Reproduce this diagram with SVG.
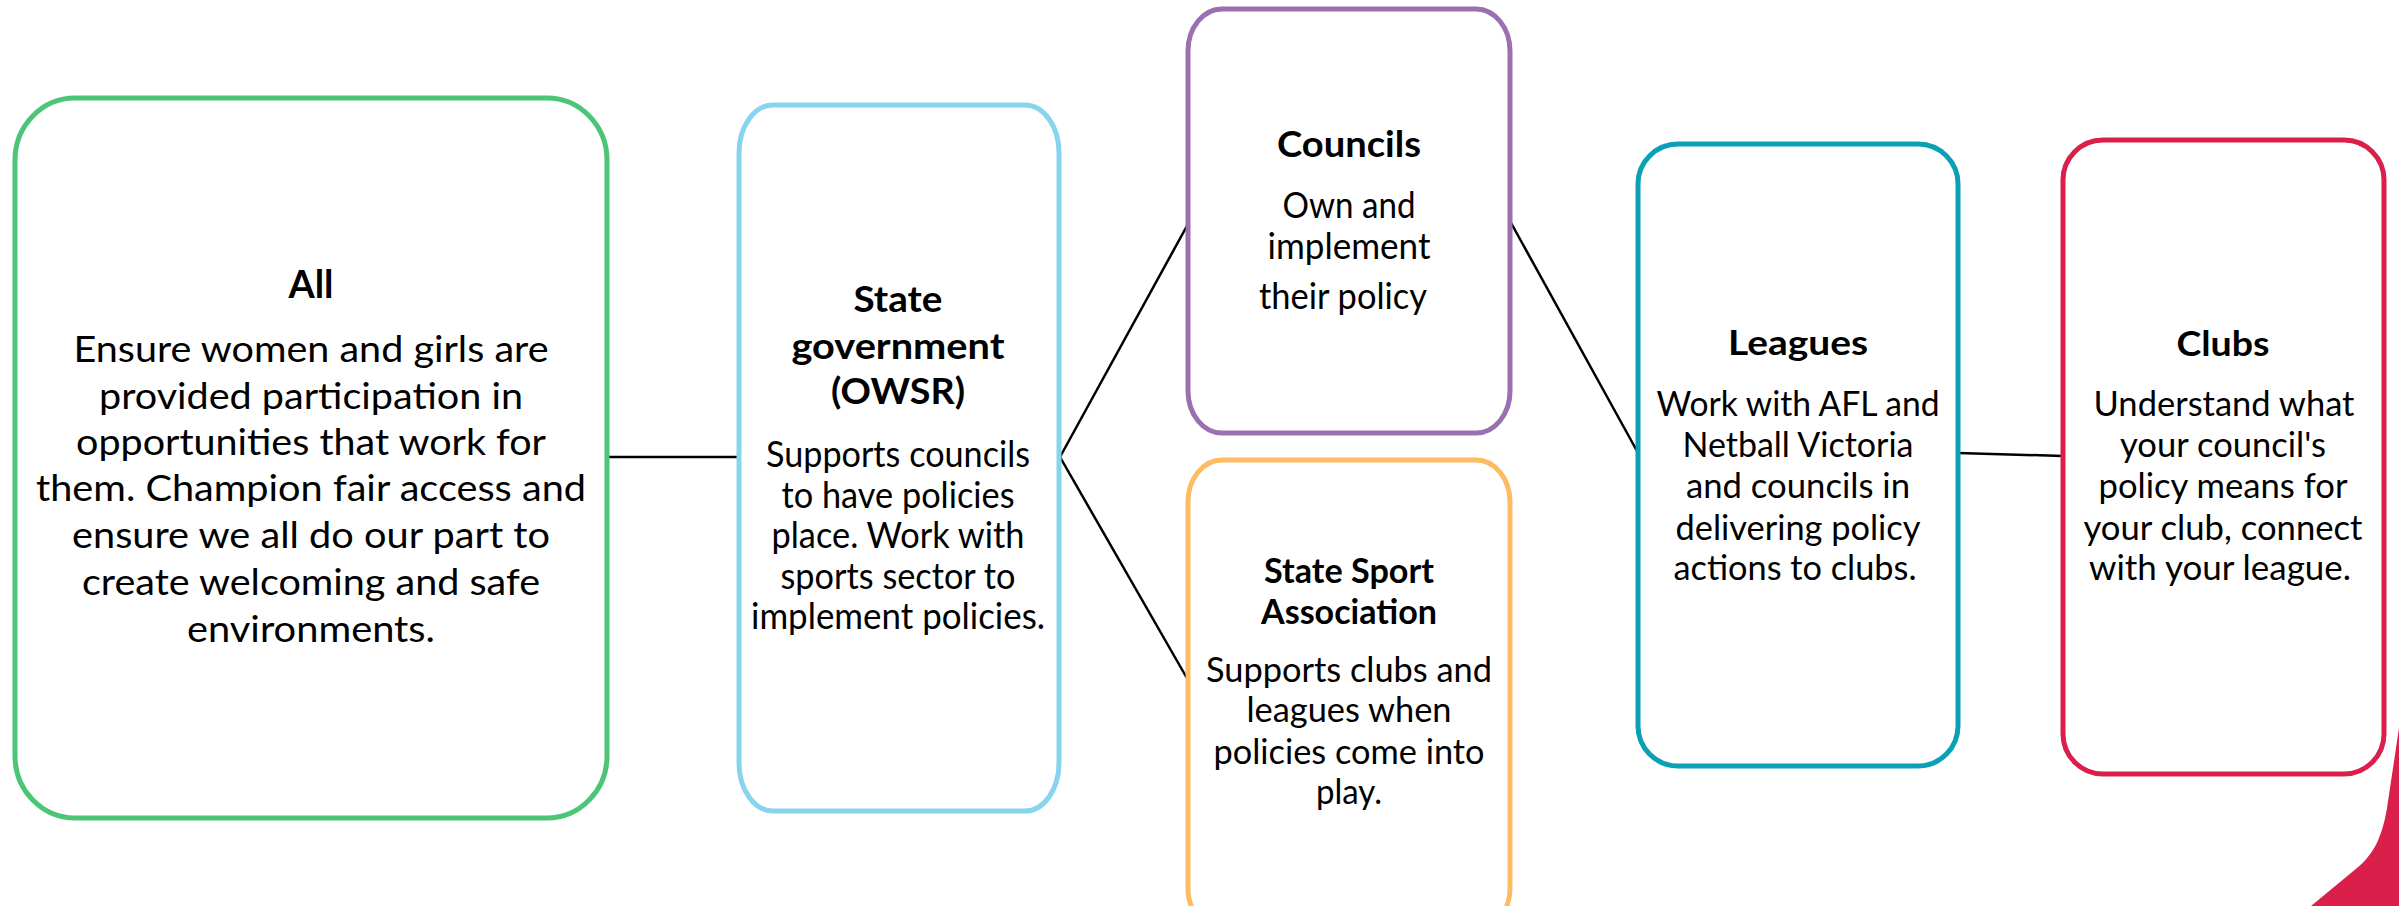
<svg xmlns="http://www.w3.org/2000/svg" width="2399" height="906" viewBox="0 0 2399 906">
<style>
.box{fill:#ffffff;stroke-width:5}
.t{font-family:Lato,"Open Sans","Liberation Sans",sans-serif;fill:#000;text-anchor:middle}
.b{font-weight:700}
.conn line{stroke:#000;stroke-width:2.5}
</style>
<rect width="2399" height="906" fill="#ffffff"/>
<g class="conn" id="connectors">
<line x1="608" y1="457" x2="739" y2="457"/>
<line x1="1060" y1="457" x2="1188" y2="224"/>
<line x1="1060" y1="457" x2="1188" y2="680"/>
<line x1="1510" y1="221" x2="1637" y2="451"/>
<line x1="1958" y1="453" x2="2063" y2="456"/>
</g>
<g id="all">
<rect class="box" x="15" y="98" width="592" height="720" rx="60" ry="62" stroke="#4CC676"/>
<g class="t" font-size="37.5">
<text class="b" x="311" y="298" textLength="45" lengthAdjust="spacingAndGlyphs">All</text>
<text x="311" y="362" textLength="475" lengthAdjust="spacingAndGlyphs">Ensure women and girls are</text>
<text x="311" y="409" textLength="424" lengthAdjust="spacingAndGlyphs">provided participation in</text>
<text x="311" y="455" textLength="470" lengthAdjust="spacingAndGlyphs">opportunities that work for</text>
<text x="311" y="501" textLength="550" lengthAdjust="spacingAndGlyphs">them. Champion fair access and</text>
<text x="311" y="548" textLength="478" lengthAdjust="spacingAndGlyphs">ensure we all do our part to</text>
<text x="311" y="595" textLength="458" lengthAdjust="spacingAndGlyphs">create welcoming and safe</text>
<text x="311" y="642" textLength="248" lengthAdjust="spacingAndGlyphs">environments.</text>
</g>
</g>
<g id="state-government">
<rect class="box" x="739" y="105" width="320" height="706" rx="34" ry="48" stroke="#88D4EF"/>
<g class="t" font-size="36">
<text class="b" x="898" y="312" textLength="89" lengthAdjust="spacingAndGlyphs">State</text>
<text class="b" x="898" y="359" textLength="213" lengthAdjust="spacingAndGlyphs">government</text>
<text class="b" x="898" y="404" textLength="134" lengthAdjust="spacingAndGlyphs">(OWSR)</text>
<text x="898" y="467" textLength="264" lengthAdjust="spacingAndGlyphs">Supports councils</text>
<text x="898" y="508" textLength="233" lengthAdjust="spacingAndGlyphs">to have policies</text>
<text x="898" y="548" textLength="253" lengthAdjust="spacingAndGlyphs">place. Work with</text>
<text x="898" y="589" textLength="235" lengthAdjust="spacingAndGlyphs">sports sector to</text>
<text x="898" y="629" textLength="294" lengthAdjust="spacingAndGlyphs">implement policies.</text>
</g>
</g>
<g id="councils">
<rect class="box" x="1188" y="9" width="322" height="424" rx="34" ry="42" stroke="#9B70B1"/>
<g class="t" font-size="36">
<text class="b" x="1349" y="157" textLength="144" lengthAdjust="spacingAndGlyphs">Councils</text>
<text x="1349" y="218" textLength="133" lengthAdjust="spacingAndGlyphs">Own and</text>
<text x="1349" y="259" textLength="163" lengthAdjust="spacingAndGlyphs">implement</text>
<text x="1343" y="309" textLength="168" lengthAdjust="spacingAndGlyphs">their policy</text>
</g>
</g>
<g id="state-sport-association">
<rect class="box" x="1188" y="460" width="322" height="470" rx="34" ry="42" stroke="#FDBB62"/>
<g class="t" font-size="34">
<text class="b" x="1349" y="583" textLength="170" lengthAdjust="spacingAndGlyphs">State Sport</text>
<text class="b" x="1349" y="624" textLength="176" lengthAdjust="spacingAndGlyphs">Association</text>
<text x="1349" y="682" textLength="286" lengthAdjust="spacingAndGlyphs">Supports clubs and</text>
<text x="1349" y="722" textLength="205" lengthAdjust="spacingAndGlyphs">leagues when</text>
<text x="1349" y="764" textLength="271" lengthAdjust="spacingAndGlyphs">policies come into</text>
<text x="1349" y="804" textLength="66" lengthAdjust="spacingAndGlyphs">play.</text>
</g>
</g>
<g id="leagues">
<rect class="box" x="1638" y="144" width="320" height="622" rx="40" ry="40" stroke="#0CA0B6"/>
<g class="t" font-size="34">
<text class="b" x="1798" y="355" textLength="140" lengthAdjust="spacingAndGlyphs">Leagues</text>
<text x="1798" y="416" textLength="283" lengthAdjust="spacingAndGlyphs">Work with AFL and</text>
<text x="1798" y="457" textLength="231" lengthAdjust="spacingAndGlyphs">Netball Victoria</text>
<text x="1798" y="498" textLength="224" lengthAdjust="spacingAndGlyphs">and councils in</text>
<text x="1798" y="540" textLength="245" lengthAdjust="spacingAndGlyphs">delivering policy</text>
<text x="1795" y="580" textLength="243" lengthAdjust="spacingAndGlyphs">actions to clubs.</text>
</g>
</g>
<g id="clubs">
<rect class="box" x="2063" y="140" width="321" height="634" rx="40" ry="40" stroke="#DA1F4B"/>
<g class="t" font-size="34">
<text class="b" x="2223" y="356" textLength="93" lengthAdjust="spacingAndGlyphs">Clubs</text>
<text x="2224" y="416" textLength="261" lengthAdjust="spacingAndGlyphs">Understand what</text>
<text x="2223" y="457" textLength="206" lengthAdjust="spacingAndGlyphs">your council's</text>
<text x="2223" y="498" textLength="249" lengthAdjust="spacingAndGlyphs">policy means for</text>
<text x="2223" y="540" textLength="279" lengthAdjust="spacingAndGlyphs">your club, connect</text>
<text x="2220" y="580" textLength="262" lengthAdjust="spacingAndGlyphs">with your league.</text>
</g>
</g>
<path id="corner-shape" d="M2399,728 L2387,808 C2382,838 2373,855 2357,868 L2311,906 L2399,906 Z" fill="#DA1F4B"/>
</svg>
